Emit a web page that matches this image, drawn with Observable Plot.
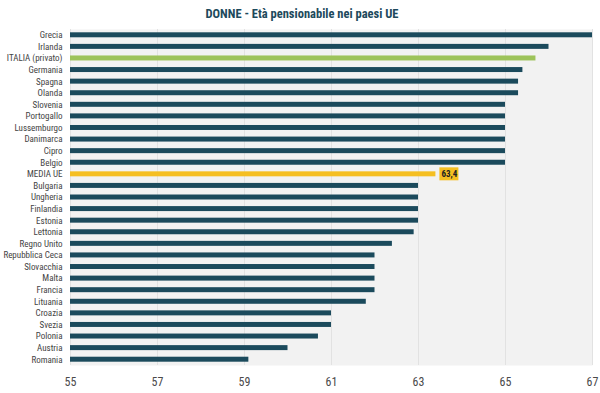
<!DOCTYPE html>
<html>
<head>
<meta charset="utf-8">
<script src="https://cdn.jsdelivr.net/npm/d3@7"></script>
<script src="https://cdn.jsdelivr.net/npm/@observablehq/plot@0.6"></script>
<style>
  html, body { margin: 0; padding: 0; background: #ffffff; }
  body { width: 600px; height: 393px; overflow: hidden; font-family: "Roboto Condensed", "Liberation Sans Narrow", "DejaVu Sans Condensed", "DejaVu Sans", sans-serif; font-stretch: condensed; }
  #title { height: 26px; line-height: 27px; text-align: center; font-weight: bold; font-size: 12.5px; color: #1d4a5c; font-stretch: condensed; padding-left: 4px; }
  svg text { font-stretch: condensed; }
</style>
</head>
<body>
<div id="title">DONNE - Età pensionabile nei paesi UE</div>
<div id="chart"></div>
<script>
const countries = ["Grecia","Irlanda","ITALIA (privato)","Germania","Spagna","Olanda","Slovenia","Portogallo","Lussemburgo","Danimarca","Cipro","Belgio","MEDIA UE","Bulgaria","Ungheria","Finlandia","Estonia","Lettonia","Regno Unito","Repubblica Ceca","Slovacchia","Malta","Francia","Lituania","Croazia","Svezia","Polonia","Austria","Romania"];
const ages = [67,66,65.7,65.4,65.3,65.3,65,65,65,65,65,65,63.4,63,63,63,63,62.9,62.4,62,62,62,62,61.8,61,61,60.7,60,59.1];
const xTicks = [55,57,59,61,63,65,67];
const highlightItaly = "ITALIA (privato)";
const highlightAvg = "MEDIA UE";

const data = countries.map((c, i) => ({country: c, age: ages[i]}));
const colorOf = d => d.country === highlightItaly ? "#9dc35a" : d.country === highlightAvg ? "#f5bf22" : "#1b4a5c";
const avg = data.filter(d => d.country === highlightAvg);
const fontStack = '"Roboto Condensed", "Liberation Sans Narrow", "DejaVu Sans Condensed", "DejaVu Sans", sans-serif';

const chart = Plot.plot({
  width: 600,
  height: 367,
  marginLeft: 70,
  marginRight: 8,
  marginTop: 3,
  marginBottom: 28,
  style: {fontFamily: fontStack, background: "transparent"},
  x: {domain: [55, 67], ticks: xTicks, label: null},
  y: {domain: countries, label: null, padding: 0, round: false},
  marks: [
    Plot.frame({fill: "#f2f2f2", stroke: null}),
    Plot.gridX(xTicks, {stroke: "#e2e2e2", strokeOpacity: 1}),
    Plot.barX(data, {y: "country", x1: 55, x2: "age", fill: colorOf, insetTop: 3.3, insetBottom: 3.3}),
    Plot.barX(avg, {y: "country", x1: "age", x2: "age", fill: "#f5bf22", insetLeft: 4, insetRight: -23, insetTop: -0.7, insetBottom: -0.7}),
    Plot.text(avg, {y: "country", x: "age", text: d => d.age.toFixed(1).replace(".", ","), dx: 13.5, fontWeight: "bold", fontSize: 9, fill: "#222"}),
    Plot.axisY({tickSize: 0, tickPadding: 8, fontSize: 9, color: "#444"}),
    Plot.axisX({ticks: xTicks, tickSize: 0, tickPadding: 12, fontSize: 12, color: "#4a4a4a", tickFormat: d => String(d)})
  ]
});
document.getElementById("chart").appendChild(chart);
</script>
</body>
</html>
